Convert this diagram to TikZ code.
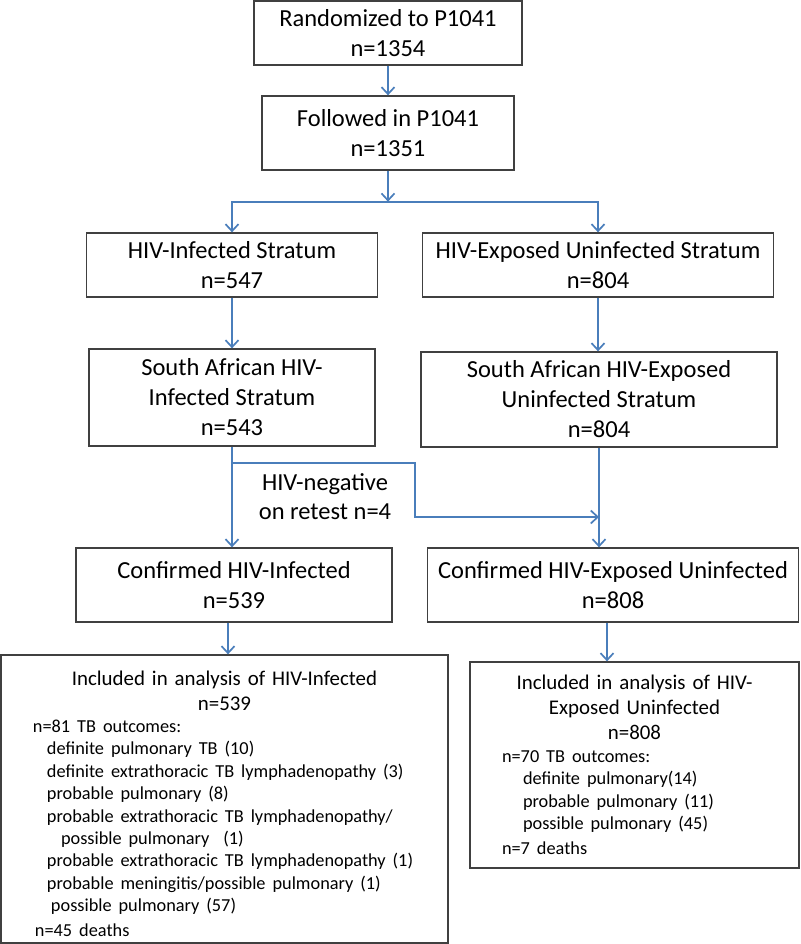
\documentclass[tikz,border=0pt]{standalone}
\usepackage{fontspec}
\setmainfont{Carlito}
\usetikzlibrary{arrows.meta,calc}

\definecolor{flowblue}{RGB}{74,126,187}
\definecolor{boxgray}{RGB}{64,64,64}

\begin{document}
\begin{tikzpicture}[x=1pt,y=-1pt,
  box/.style={draw=boxgray,line width=1.3pt,inner sep=0pt,align=center,
    font=\fontsize{24.5}{30}\selectfont},
  flow/.style={draw=flowblue,line width=1.7pt,-{Straight Barb[length=7pt,width=13pt]}},
  detail/.style={box,align=left,text width=#1,font=\fontsize{20.9}{25}\selectfont}]

\useasboundingbox (0,0) rectangle (800,944);

% top of the chart
\node[box,minimum width=268,minimum height=64] (rand) at (388,33) {Randomized to P1041\\n=1354};
\node[box,minimum width=252,minimum height=74] (follow) at (388,133) {Followed in P1041\\n=1351};

% strata
\node[box,minimum width=291,minimum height=64] (infS) at (232,265) {HIV-Infected Stratum\\n=547};
\node[box,minimum width=351,minimum height=64] (expS) at (598,265) {HIV-Exposed Uninfected Stratum\\n=804};

\node[box,minimum width=286,minimum height=97] (saInf) at (232,397.5) {South African HIV-\\Infected Stratum\\n=543};
\node[box,minimum width=356,minimum height=95] (saExp) at (599,399.5) {South African HIV-Exposed\\Uninfected Stratum\\n=804};

\node[font=\fontsize{24.5}{29}\selectfont,align=center] (neg) at (325,497) {HIV-negative\\on retest n=4};

\node[box,minimum width=316,minimum height=74] (confInf) at (234,585) {Confirmed HIV-Infected\\n=539};
\node[box,minimum width=371,minimum height=74] (confExp) at (613,585) {Confirmed HIV-Exposed Uninfected\\n=808};

% analysis boxes
\node[detail=447,minimum width=447,minimum height=288] (anInf) at (224.5,799) {%
  {\centering\rule{0pt}{24pt}Included in analysis of HIV-Infected\\n=539\par}
  \fontsize{18.3}{22.4}\selectfont
  \hspace*{32pt}n=81 TB outcomes:\\
  \hspace*{46pt}definite pulmonary TB (10)\\
  \hspace*{46pt}definite extrathoracic TB lymphadenopathy (3)\\
  \hspace*{46pt}probable pulmonary (8)\\
  \hspace*{46pt}probable extrathoracic TB lymphadenopathy/\\
  \hspace*{60pt}possible pulmonary\ \ (1)\\
  \hspace*{46pt}probable extrathoracic TB lymphadenopathy (1)\\
  \hspace*{46pt}probable meningitis/possible pulmonary (1)\\
  \hspace*{50pt}possible pulmonary (57)\\
  \hspace*{34pt}n=45 deaths};
\node[detail=329,minimum width=329,minimum height=206] (anExp) at (634.5,765) {%
  {\centering Included in analysis of HIV-\\Exposed Uninfected\\n=808\par}
  \fontsize{18.3}{22.4}\selectfont
  \hspace*{32pt}n=70 TB outcomes:\\
  \hspace*{53pt}definite pulmonary(14)\\
  \hspace*{53pt}probable pulmonary (11)\\
  \hspace*{53pt}possible pulmonary (45)\\
  \hspace*{32pt}n=7 deaths};

% connectors
\draw[flow] (rand.south) -- (rand.south |- follow.north);
\coordinate (split) at ($(follow.south)+(0,31)$);
\draw[flow] (follow.south) -- (split);
\draw[flow] (split) -| (infS.north);
\draw[flow] (split) -| (expS.north);
\draw[flow] (infS.south) -- (infS.south |- saInf.north);
\draw[flow] (expS.south) -- (expS.south |- saExp.north);
\draw[flow] (saInf.south) -- (saInf.south |- confInf.north);
\coordinate (negTurn) at (415,517);
\draw[flow] ($(saInf.south)+(0,16)$) -| (negTurn) -- (negTurn -| saExp.south);
\draw[flow] (saExp.south) -- (saExp.south |- confExp.north);
\draw[flow] ([xshift=-6pt]confInf.south) -- ([xshift=-6pt]confInf.south |- anInf.north);
\draw[flow] ([xshift=-6pt]confExp.south) -- ([xshift=-6pt]confExp.south |- anExp.north);

\end{tikzpicture}
\end{document}
